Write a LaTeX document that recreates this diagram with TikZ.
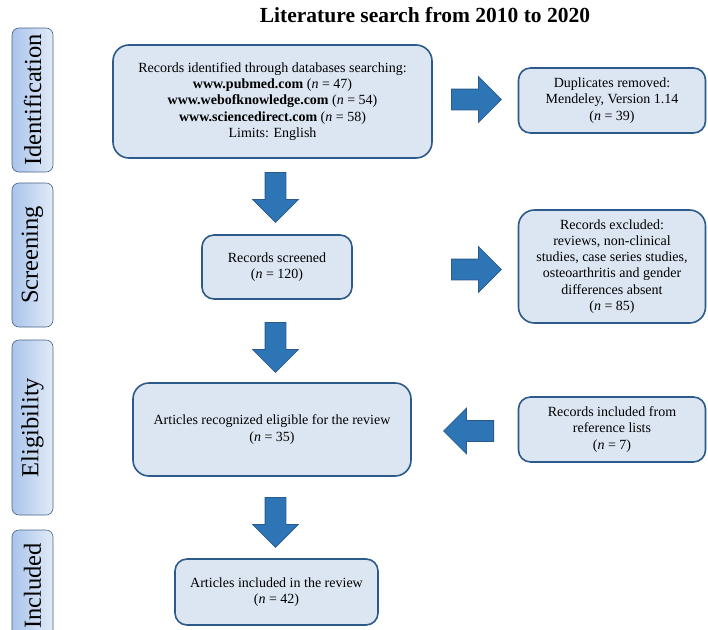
\documentclass[tikz,border=0pt]{standalone}
\usepackage{fontspec}
\setmainfont{Liberation Serif}
\usetikzlibrary{shapes.arrows}
\definecolor{boxline}{HTML}{2C5A8A}
\definecolor{boxfill}{HTML}{DCE6F2}
\definecolor{arrfill}{HTML}{2E75B6}
\definecolor{arrline}{HTML}{2A5A8F}
\definecolor{tabdark}{HTML}{A9C4EB}
\definecolor{tablight}{HTML}{E2EBF7}
\definecolor{tabline}{HTML}{4A6486}
\begin{document}
\begin{tikzpicture}[x=1pt, y=-1pt]
    \tikzstyle{stage}=[draw=boxline, line width=1.6pt, fill=boxfill, rounded corners=12pt, align=center, inner sep=0pt, font=\fontsize{14}{16.2}\selectfont]
    \tikzstyle{phase}=[draw=tabline, line width=0.6pt, rounded corners=7pt, left color=tabdark, right color=tablight, minimum width=41pt, inner sep=0pt, font=\fontsize{24.5}{26}\selectfont]
    \tikzstyle{blockarrow}=[single arrow, draw=arrline, line width=0.8pt, fill=arrfill, text height=20pt, text depth=0pt, text width=0pt, minimum height=50pt, single arrow head extend=12.5pt, inner sep=0pt, anchor=tail]
    \useasboundingbox (0,0) rectangle (708,629);

    \node[font=\fontsize{21.5}{24}\selectfont\bfseries] (title) at (425,15) {Literature search from 2010 to 2020};

    % phase tabs on the left
    \node[phase, minimum height=144pt] (tabid) at (32.5,100) {\rotatebox{90}{Identification}};
    \node[phase, minimum height=144pt] (tabscr) at (32.5,255) {\rotatebox{90}{Screening}};
    \node[phase, minimum height=175pt] (tabel) at (32.5,427.5) {\rotatebox{90}{Eligibility}};
    \node[phase, minimum height=112pt] (tabinc) at (32.5,586) {\rotatebox{90}{Included}};

    % main column
    \node[stage, rounded corners=16pt, minimum width=319pt, minimum height=113pt] (ident) at (272.5,101.5) {Records identified through databases searching:\\ \textbf{www.pubmed.com} (\textit{n} = 47)\\ \textbf{www.webofknowledge.com} (\textit{n} = 54)\\ \textbf{www.sciencedirect.com} (\textit{n} = 58)\\ Limits: English};
    \node[stage, minimum width=150pt, minimum height=64pt] (screen) at (277,267) {Records screened\\ (\textit{n} = 120)};
    \node[stage, rounded corners=16pt, minimum width=278pt, minimum height=93pt] (elig) at (272,429.5) {Articles recognized eligible for the review\\ (\textit{n} = 35)};
    \node[stage, minimum width=203pt, minimum height=66pt] (incl) at (276.5,592) {Articles included in the review\\ (\textit{n} = 42)};

    % side column
    \node[stage, minimum width=187pt, minimum height=65pt] (dup) at (612,100.5) {Duplicates removed:\\ Mendeley, Version 1.14\\ (\textit{n} = 39)};
    \node[stage, rounded corners=16pt, minimum width=187pt, minimum height=113pt] (excl) at (612,266.5) {Records excluded:\\ reviews, non-clinical\\ studies, case series studies,\\ osteoarthritis and gender\\ differences absent\\ (\textit{n} = 85)};
    \node[stage, minimum width=187pt, minimum height=65pt] (refs) at (612,429.5) {Records included from\\ reference lists\\ (\textit{n} = 7)};

    % block arrows, placed by their tails
    \node[blockarrow] (identdup) at (451,99.5) {};
    \node[blockarrow] (screenexcl) at (451,269.5) {};
    \node[blockarrow, rotate=180] (refselig) at (494,431) {};
    \node[blockarrow, rotate=-90] (identscreen) at (275.5,172) {};
    \node[blockarrow, rotate=-90] (screenelig) at (275.5,322) {};
    \node[blockarrow, rotate=-90] (eligincl) at (275.5,497) {};
  \end{tikzpicture}
\end{document}
